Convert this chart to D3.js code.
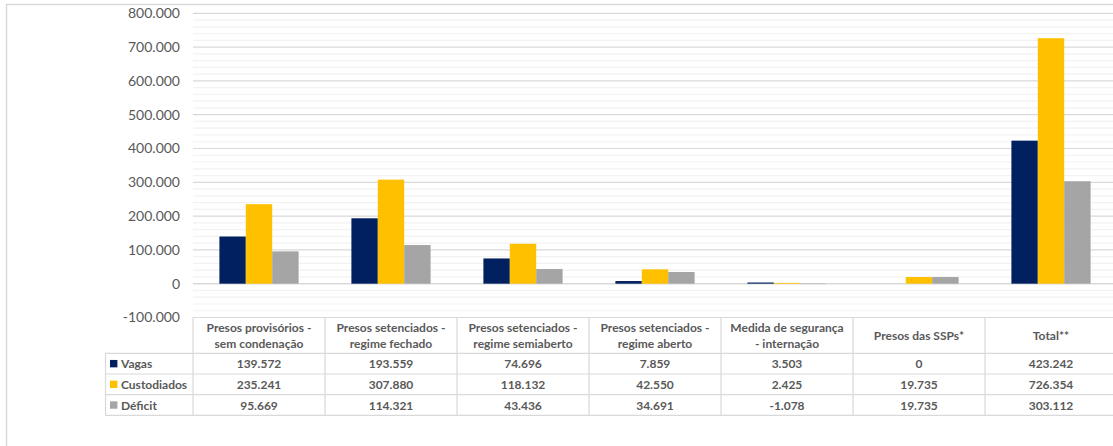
<!DOCTYPE html>
<html>
<head>
<meta charset="utf-8">
<script src="https://cdn.jsdelivr.net/npm/d3@7"></script>
<style>
  body { margin: 0; background: #fff; }
  svg { display: block; font-family: Lato, "Liberation Sans", sans-serif; }
</style>
</head>
<body>
<div id="chart"></div>
<script>
// categories (header lines of the data table)
const categories = [
    ["Presos provisórios -", "sem condenação"],
    ["Presos setenciados -", "regime fechado"],
    ["Presos setenciados -", "regime semiaberto"],
    ["Presos setenciados -", "regime aberto"],
    ["Medida de segurança", "- internação"],
    ["Presos das SSPs*"],
    ["Total**"]
];
const seriesNames = ["Vagas", "Custodiados", "Déficit"];
const vagas = [139572, 193559, 74696, 7859, 3503, 0, 423242];
const custodiados = [235241, 307880, 118132, 42550, 2425, 19735, 726354];
const deficit = [95669, 114321, 43436, 34691, -1078, 19735, 303112];
const yTicks = [-100000, 0, 100000, 200000, 300000, 400000, 500000, 600000, 700000, 800000];

const colors = d3.scaleOrdinal().domain(seriesNames).range(["#002060", "#ffc000", "#a5a5a5"]);
const series = [vagas, custodiados, deficit];

const width = 1113, height = 446;
const left = 193, colW = 132;
const textColor = "#595959", lineColor = "#d9d9d9";

const svg = d3.select("#chart").append("svg")
    .attr("width", width)
    .attr("height", height);

// outer chart border
svg.append("rect")
    .attr("x", 6.5).attr("y", 4.5)
    .attr("width", width + 20).attr("height", height + 20)
    .attr("fill", "none")
    .attr("stroke", lineColor)
    .attr("stroke-width", 1.5);

const catKeys = categories.map(c => c.join(" "));
const x = d3.scaleBand()
    .domain(catKeys)
    .range([left, left + colW * categories.length]);
const xs = d3.scaleBand()
    .domain(seriesNames)
    .range([0, x.bandwidth()])
    .paddingOuter(1);
const y = d3.scaleLinear()
    .domain([-100000, 800000])
    .range([317.5, 13.3]);

const locale = d3.formatLocale({decimal: ",", thousands: ".", grouping: [3], currency: ["", ""], minus: "-"});
const fmt = locale.format(",.0f");

// minor + major gridlines
svg.append("g")
    .selectAll("line")
    .data(d3.range(-80000, 800000, 20000).filter(v => v % 100000 !== 0))
    .join("line")
    .attr("x1", left).attr("x2", width)
    .attr("y1", d => y(d)).attr("y2", d => y(d))
    .attr("stroke", "#f2f2f2")
    .attr("stroke-width", 1.2);
svg.append("g")
    .selectAll("line")
    .data(yTicks.filter(v => v > -100000))
    .join("line")
    .attr("x1", left).attr("x2", width)
    .attr("y1", d => y(d)).attr("y2", d => y(d))
    .attr("stroke", lineColor)
    .attr("stroke-width", d => d === 0 ? 1.6 : 1.2);

// y axis
const yAxis = svg.append("g")
    .attr("transform", "translate(" + left + ",0)")
    .call(d3.axisLeft(y).tickValues(yTicks).tickSize(0).tickPadding(13).tickFormat(fmt));
yAxis.select(".domain").remove();
yAxis.selectAll("text")
    .attr("fill", textColor)
    .style("font-size", "14px")
    .style("font-family", "Lato, sans-serif");

// bars
const rows = catKeys.map((k, i) => ({key: k, values: seriesNames.map((s, j) => ({name: s, value: series[j][i]}))}));
svg.append("g")
    .selectAll("g")
    .data(rows)
    .join("g")
    .attr("transform", d => "translate(" + x(d.key) + ",0)")
    .selectAll("rect")
    .data(d => d.values)
    .join("rect")
    .attr("x", d => xs(d.name))
    .attr("width", xs.bandwidth())
    .attr("y", d => y(Math.max(0, d.value)))
    .attr("height", d => Math.abs(y(d.value) - y(0)))
    .attr("fill", d => colors(d.name));

// data table
const tTop = 317.5, tHead = 353.3, rowH = 20.7, legLeft = 105.5;
const tRight = left + colW * categories.length;
const table = svg.append("g")
    .attr("stroke", lineColor)
    .attr("stroke-width", 1.2);
table.append("line").attr("x1", left).attr("x2", tRight).attr("y1", tTop).attr("y2", tTop);
seriesNames.forEach((s, i) => {
    table.append("line").attr("x1", legLeft).attr("x2", tRight)
        .attr("y1", tHead + i * rowH).attr("y2", tHead + i * rowH);
});
table.append("line").attr("x1", legLeft).attr("x2", tRight)
    .attr("y1", tHead + 3 * rowH).attr("y2", tHead + 3 * rowH);
table.append("line").attr("x1", legLeft).attr("x2", legLeft)
    .attr("y1", tHead).attr("y2", tHead + 3 * rowH);
table.selectAll(".vline")
    .data(catKeys)
    .join("line")
    .attr("x1", d => x(d)).attr("x2", d => x(d))
    .attr("y1", tTop).attr("y2", tHead + 3 * rowH);

// header text
const head = svg.append("g")
    .selectAll("text")
    .data(categories)
    .join("text")
    .attr("x", (d, i) => x(catKeys[i]) + colW / 2)
    .attr("y", d => d.length === 1 ? (tTop + tHead) / 2 : (tTop + tHead) / 2 - 8)
    .attr("text-anchor", "middle")
    .attr("dominant-baseline", "central")
    .attr("fill", textColor)
    .style("font-size", "12px")
    .style("font-weight", "bold");
head.selectAll("tspan")
    .data(d => d)
    .join("tspan")
    .attr("x", function () { return this.parentNode.getAttribute("x"); })
    .attr("dy", (d, i) => i === 0 ? 0 : 16)
    .text(d => d);

// legend column + values
seriesNames.forEach((s, j) => {
    const cy = tHead + j * rowH + rowH / 2;
    svg.append("rect")
        .attr("x", 110).attr("y", cy - 3.7)
        .attr("width", 7.4).attr("height", 7.4)
        .attr("fill", colors(s));
    svg.append("text")
        .attr("x", 121).attr("y", cy)
        .attr("dominant-baseline", "central")
        .attr("fill", textColor)
        .style("font-size", "12px")
        .style("font-weight", "bold")
        .text(s);
    svg.append("g")
        .selectAll("text")
        .data(series[j])
        .join("text")
        .attr("x", (d, i) => x(catKeys[i]) + colW / 2)
        .attr("y", cy)
        .attr("text-anchor", "middle")
        .attr("dominant-baseline", "central")
        .attr("fill", textColor)
        .style("font-size", "12px")
        .style("font-weight", "bold")
        .text(d => fmt(d));
});
</script>
</body>
</html>
